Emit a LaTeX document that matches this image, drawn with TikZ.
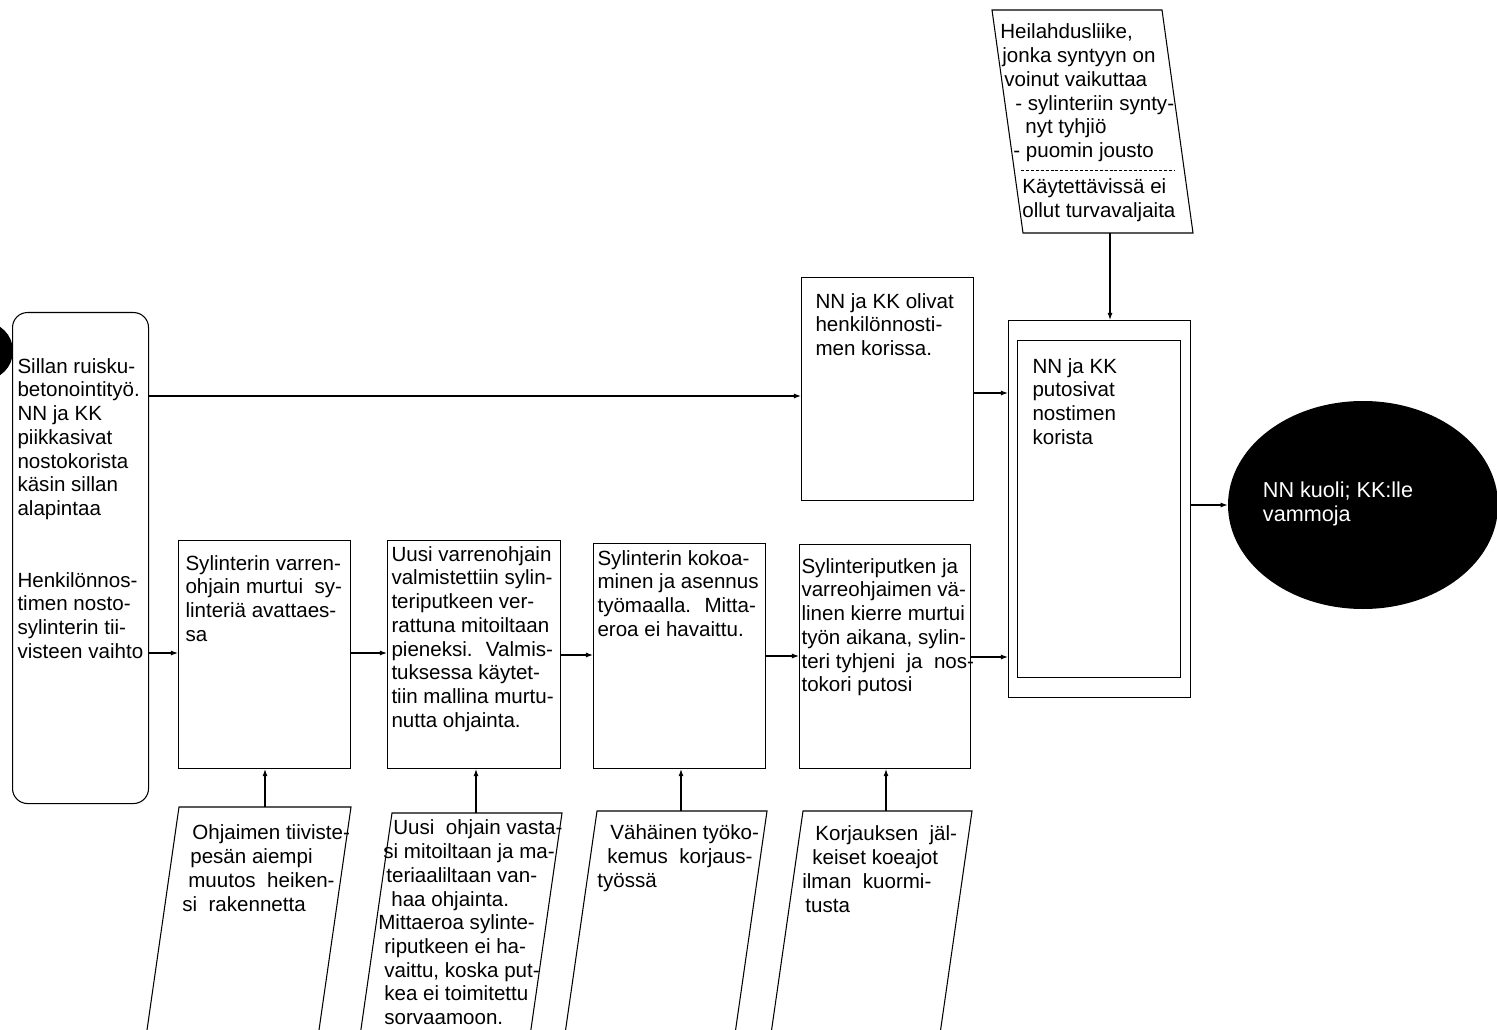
\documentclass[tikz,border=0pt]{standalone}
\usepackage{fontspec}
\setmainfont{Liberation Sans}
\usetikzlibrary{arrows.meta,shapes.geometric}
\newlength{\px}
\setlength{\px}{0.02cm}
\newcommand{\fs}{\fontsize{11.7}{13.5}\selectfont}
% box body: width, height, left inset, top inset, lines
\newcommand{\boxbody}[5]{\parbox[c][#2\px][t]{#1\px}{\vspace*{#4\px}\hspace*{#3\px}\begin{tabular}[t]{@{}l@{}}#5\end{tabular}}}
\newcommand{\rows}[1]{\begin{tabular}[t]{@{}l@{}}#1\end{tabular}}

\begin{document}
\begin{tikzpicture}[x=0.02cm, y=-0.02cm,
		every node/.style = {font=\fs},
		stage/.style = {draw, anchor=north west, inner sep=0pt, line width=0.6pt},
		slanted/.style = {draw, line width=0.6pt},
		txt/.style = {anchor=north west, inner sep=0pt},
		arr/.style = {-{Latex[length=4pt,width=2.8pt]}, line width=0.6pt},
		outcome/.style = {ellipse, fill=black, text=white, inner sep=0pt,
			minimum width=270\px, minimum height=208\px, font=\fontsize{12.3}{13.8}\selectfont}]

	\useasboundingbox (0,0) rectangle (1497,1030);
	\clip (0,0) rectangle (1497,1030);

	\fill (-16,351) circle[radius=29\px];

	% lähtötilanne
	\node[stage, rounded corners=15\px] (tausta) at (12,312) {\boxbody{136}{491}{5}{44}{Sillan ruisku-\\betonointityö.\\NN ja KK\\piikkasivat\\nostokorista\\käsin sillan\\alapintaa\\[48\px]Henkilönnos-\\timen nosto-\\sylinterin tii-\\visteen vaihto}};

	% tapahtumat
	\node[stage] (varsi) at (178,540) {\boxbody{172}{228}{7}{13}{Sylinterin varren-\\ohjain murtui \ sy-\\linteriä avattaes-\\sa}};
	\node[stage] (uusi) at (387,540) {\boxbody{173}{228}{4}{4}{Uusi varrenohjain\\valmistettiin sylin-\\teriputkeen ver-\\rattuna mitoiltaan\\pieneksi. \ Valmis-\\tuksessa käytet-\\tiin mallina murtu-\\nutta ohjainta.}};
	\node[stage] (kokoon) at (593,543) {\boxbody{172}{225}{4}{5}{Sylinterin kokoa-\\minen ja asennus\\työmaalla. \ Mitta-\\eroa ei havaittu.}};
	\node[stage] (kierre) at (799,544) {\boxbody{171}{224}{2}{12}{Sylinteriputken ja\\varreohjaimen vä-\\linen kierre murtui\\työn aikana, sylin-\\teri tyhjeni \ ja \ nos-\\tokori putosi}};
	\node[stage] (kori) at (801,277) {\boxbody{172}{223}{14}{14}{NN ja KK olivat\\henkilönnosti-\\men korissa.}};
	\node[stage, minimum width=182\px, minimum height=377\px] (putos) at (1008,320) {};
	\node[stage] (putoam) at (1017,340) {\boxbody{163}{337}{15}{16}{NN ja KK\\putosivat\\nostimen\\korista}};
	\node[outcome] (seur) at (1363,505) {\hspace*{-50\px}\begin{tabular}{@{}l@{}}NN kuoli; KK:lle\\vammoja\end{tabular}};

	% myötävaikuttaneet tekijät
	\draw[slanted] (992,10) -- (1162,10) -- (1193,233) -- (1023,233) -- cycle;
	\coordinate (heilb) at (1110,233);
	\node[txt] (heil) at (1000,22) {\rows{Heilahdusliike,\\\hspace*{2\px}jonka syntyyn on\\\hspace*{4\px}voinut vaikuttaa\\\hspace*{15\px}- sylinteriin synty-\\\hspace*{25\px}nyt tyhjiö\\\hspace*{13\px}- puomin jousto}};
	\draw[dash pattern=on 1.7pt off 1.1pt, line width=0.5pt] (1021,170) -- (1174,170);
	\node[txt] (valj) at (1022,177) {\rows{Käytettävissä ei\\ollut turvavaljaita}};

	\draw[slanted] (179,807) -- (351,807) -- ++(-33,230) -- ++(-172,0) -- cycle;
	\coordinate (tiivt) at (265,807);
	\node[txt] (tiiv) at (182,823) {\rows{\hspace*{10\px}Ohjaimen tiiviste-\\\hspace*{8\px}pesän aiempi\\\hspace*{6\px}muutos \ heiken-\\si \ rakennetta}};

	\draw[slanted] (392,813) -- (562,813) -- ++(-33,230) -- ++(-170,0) -- cycle;
	\coordinate (mittat) at (476,813);
	\node[txt] (mitta) at (378,818) {\rows{\hspace*{15\px}Uusi \ ohjain vasta-\\\hspace*{5\px}si mitoiltaan ja ma-\\\hspace*{8\px}teriaaliltaan van-\\\hspace*{13\px}haa ohjainta.\\Mittaeroa sylinte-\\\hspace*{6\px}riputkeen ei ha-\\\hspace*{6\px}vaittu, koska put-\\\hspace*{6\px}kea ei toimitettu\\\hspace*{6\px}sorvaamoon.}};

	\draw[slanted] (597,811) -- (767,811) -- ++(-33,230) -- ++(-170,0) -- cycle;
	\coordinate (koket) at (681,811);
	\node[txt] (koke) at (597,823) {\rows{\hspace*{13\px}Vähäinen työko-\\\hspace*{10\px}kemus \ korjaus-\\työssä}};

	\draw[slanted] (803,811) -- (972,811) -- ++(-33,230) -- ++(-169,0) -- cycle;
	\coordinate (koeajot) at (886,811);
	\node[txt] (koeajo) at (802,824) {\rows{\hspace*{13\px}Korjauksen \ jäl-\\\hspace*{10\px}keiset koeajot\\ilman \ kuormi-\\\hspace*{3\px}tusta}};

	% nuolet
	\draw[arr] (tausta.east |- 0,396) -- (kori.west |- 0,396);
	\draw[arr] (kori.east |- 0,393) -- (putos.west |- 0,393);
	\draw[arr] (tausta.east |- 0,653) -- (varsi.west |- 0,653);
	\draw[arr] (varsi.east |- 0,653) -- (uusi.west |- 0,653);
	\draw[arr] (uusi.east |- 0,655) -- (kokoon.west |- 0,655);
	\draw[arr] (kokoon.east |- 0,656) -- (kierre.west |- 0,656);
	\draw[arr] (kierre.east |- 0,657) -- (putos.west |- 0,657);
	\draw[arr] (putos.east |- seur.west) -- (seur.west);
	\draw[arr] (heilb) -- (heilb |- putos.north);
	\draw[arr] (tiivt) -- (tiivt |- varsi.south);
	\draw[arr] (mittat) -- (mittat |- uusi.south);
	\draw[arr] (koket) -- (koket |- kokoon.south);
	\draw[arr] (koeajot) -- (koeajot |- kierre.south);

\end{tikzpicture}
\end{document}
